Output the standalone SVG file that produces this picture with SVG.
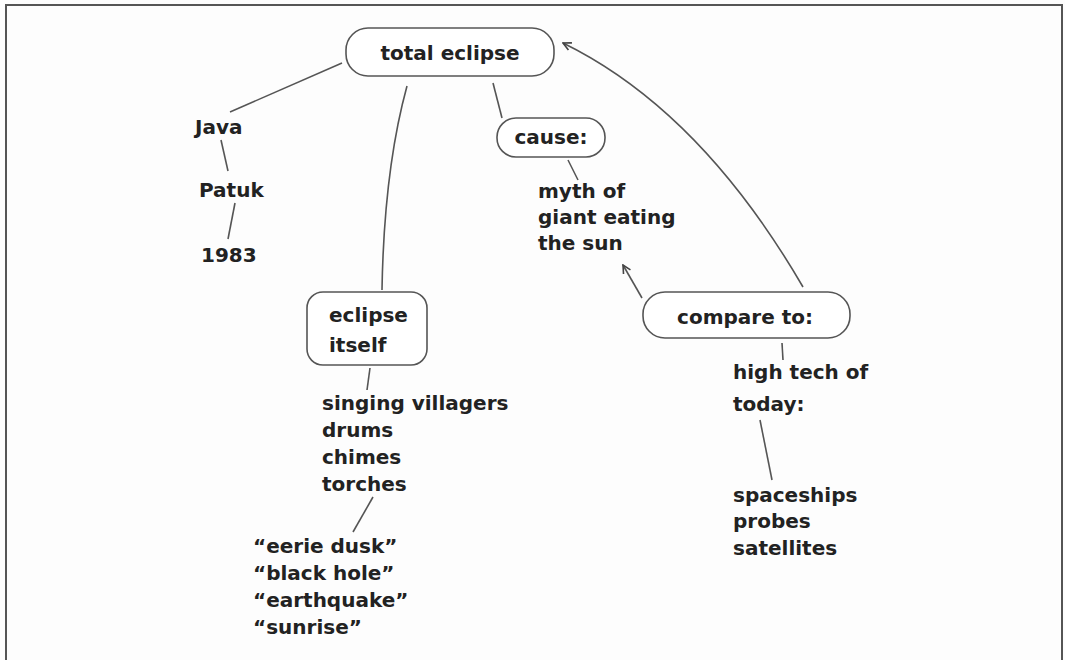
<svg xmlns="http://www.w3.org/2000/svg" width="1065" height="660" viewBox="0 0 1065 660">
<style>
.t{font-family:"DejaVu Sans","Liberation Sans",sans-serif;font-weight:bold;font-size:20px;fill:#222}
.box{fill:#fff;stroke:#555;stroke-width:1.6}
.ln{fill:none;stroke:#555;stroke-width:1.6}
</style>
<defs>
<marker id="ah" viewBox="0 0 10 10" refX="9" refY="5" markerWidth="10" markerHeight="10" markerUnits="userSpaceOnUse" orient="auto">
<path d="M1,1 L9,5 L1,9" fill="none" stroke="#444" stroke-width="1.6"/>
</marker>
</defs>
<rect width="1065" height="660" fill="#fdfdfd"/>
<path d="M6,662 L6,5 L1062,5 L1062,662" fill="none" stroke="#555" stroke-width="2"/>
<g id="connectors">
<line class="ln" x1="342" y1="63" x2="230" y2="112"/>
<line class="ln" x1="221" y1="140" x2="228" y2="171"/>
<line class="ln" x1="235" y1="203" x2="228" y2="239"/>
<path class="ln" d="M407,86 Q384,170 382,290"/>
<line class="ln" x1="493" y1="83" x2="502" y2="118"/>
<line class="ln" x1="568" y1="160" x2="578" y2="180"/>
<line class="ln" x1="642" y1="298" x2="623" y2="265" marker-end="url(#ah)"/>
<path class="ln" d="M803,287 Q700,110 563,43" marker-end="url(#ah)"/>
<line class="ln" x1="782" y1="343" x2="783" y2="360"/>
<line class="ln" x1="760" y1="420" x2="772" y2="480"/>
<line class="ln" x1="370" y1="368" x2="367" y2="390"/>
<line class="ln" x1="373" y1="497" x2="353" y2="532"/>
</g>
<g id="total-eclipse">
<rect class="box" x="346" y="28" width="208" height="48" rx="22"/>
<text class="t" x="450" y="60" text-anchor="middle">total eclipse</text>
</g>
<g id="java"><text class="t" x="195" y="134">Java</text></g>
<g id="patuk"><text class="t" x="199" y="197">Patuk</text></g>
<g id="year"><text class="t" x="201" y="262">1983</text></g>
<g id="cause">
<rect class="box" x="497" y="118" width="108" height="39" rx="19"/>
<text class="t" x="551" y="144" text-anchor="middle">cause:</text>
</g>
<g id="myth">
<text class="t" x="538" y="198">myth of</text>
<text class="t" x="538" y="224">giant eating</text>
<text class="t" x="538" y="250">the sun</text>
</g>
<g id="compare">
<rect class="box" x="643" y="292" width="207" height="46" rx="22"/>
<text class="t" x="745" y="324" text-anchor="middle">compare to:</text>
</g>
<g id="hightech">
<text class="t" x="733" y="379">high tech of</text>
<text class="t" x="733" y="411">today:</text>
</g>
<g id="spaceships">
<text class="t" x="733" y="502">spaceships</text>
<text class="t" x="733" y="528">probes</text>
<text class="t" x="733" y="555">satellites</text>
</g>
<g id="eclipse-itself">
<rect class="box" x="307" y="292" width="120" height="73" rx="16"/>
<text class="t" x="329" y="322">eclipse</text>
<text class="t" x="329" y="352">itself</text>
</g>
<g id="sounds">
<text class="t" x="322" y="410">singing villagers</text>
<text class="t" x="322" y="437">drums</text>
<text class="t" x="322" y="464">chimes</text>
<text class="t" x="322" y="491">torches</text>
</g>
<g id="quotes">
<text class="t" x="253" y="553">“eerie dusk”</text>
<text class="t" x="253" y="580">“black hole”</text>
<text class="t" x="253" y="607">“earthquake”</text>
<text class="t" x="253" y="634">“sunrise”</text>
</g>
</svg>
